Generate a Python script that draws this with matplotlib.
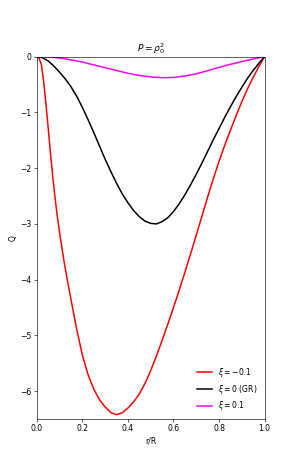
import matplotlib
matplotlib.use("Agg")
import matplotlib.pyplot as plt

r_black = [0.0, 0.025, 0.05, 0.075, 0.10, 0.125, 0.15, 0.175, 0.20, 0.225, 0.25, 0.275,
           0.30, 0.325, 0.35, 0.375, 0.40, 0.425, 0.45, 0.475, 0.50, 0.525, 0.55, 0.575,
           0.60, 0.625, 0.65, 0.675, 0.70, 0.725, 0.75, 0.775, 0.80, 0.825, 0.85, 0.875,
           0.90, 0.925, 0.95, 0.975, 1.0]
q_black = [0.0, -0.02, -0.08, -0.17, -0.28, -0.40, -0.54, -0.71, -0.91, -1.13, -1.36, -1.60,
           -1.84, -2.06, -2.27, -2.46, -2.62, -2.76, -2.87, -2.95, -2.99, -3.00, -2.96, -2.89,
           -2.78, -2.64, -2.48, -2.30, -2.11, -1.91, -1.70, -1.49, -1.29, -1.09, -0.90, -0.72,
           -0.55, -0.39, -0.25, -0.12, 0.0]

r_red = [0.0, 0.01, 0.02, 0.03, 0.04, 0.05, 0.06, 0.07, 0.08, 0.09, 0.10, 0.11, 0.125,
         0.15, 0.175, 0.20, 0.225, 0.25, 0.275, 0.30, 0.325, 0.35, 0.375, 0.40, 0.425,
         0.45, 0.475, 0.50, 0.525, 0.55, 0.575, 0.60, 0.625, 0.65, 0.675, 0.70, 0.725,
         0.75, 0.775, 0.80, 0.825, 0.85, 0.875, 0.90, 0.925, 0.95, 0.975, 1.0]
q_red = [0.0, -0.03, -0.14, -0.44, -0.83, -1.27, -1.72, -2.14, -2.52, -2.86, -3.15, -3.42, -3.80,
         -4.35, -4.88, -5.35, -5.70, -5.96, -6.15, -6.28, -6.38, -6.42, -6.385, -6.30, -6.19,
         -6.05, -5.86, -5.63, -5.37, -5.09, -4.80, -4.50, -4.19, -3.87, -3.54, -3.20, -2.86,
         -2.52, -2.19, -1.88, -1.59, -1.32, -1.06, -0.81, -0.58, -0.37, -0.18, 0.0]

r_mag = [0.0, 0.05, 0.10, 0.15, 0.20, 0.25, 0.30, 0.35, 0.40, 0.45, 0.50, 0.55,
         0.60, 0.65, 0.70, 0.75, 0.80, 0.85, 0.90, 0.95, 1.0]
q_mag = [0.0, -0.005, -0.025, -0.06, -0.10, -0.15, -0.20, -0.25, -0.30, -0.34, -0.365, -0.38,
         -0.375, -0.35, -0.31, -0.255, -0.195, -0.14, -0.09, -0.045, 0.0]

labels = [r"$\xi = -0.1$", r"$\xi = 0$ (GR)", r"$\xi = 0.1$"]

DPI = 54.5
fig, ax = plt.subplots(figsize=(294 / DPI, 471 / DPI), dpi=DPI)
ax.plot(r_red, q_red, color="red", lw=2, label=labels[0])
ax.plot(r_black, q_black, color="black", lw=2, label=labels[1])
ax.plot(r_mag, q_mag, color="magenta", lw=2, label=labels[2])
ax.set_xlim(0, 1)
ax.set_ylim(-6.5, 0)
ax.set_xlabel("r/R")
ax.set_ylabel("Q")
ax.set_title(r"$P = \rho_0^2$")
ax.legend(loc="lower right", frameon=False)
fig.savefig("out.png", dpi=DPI)
